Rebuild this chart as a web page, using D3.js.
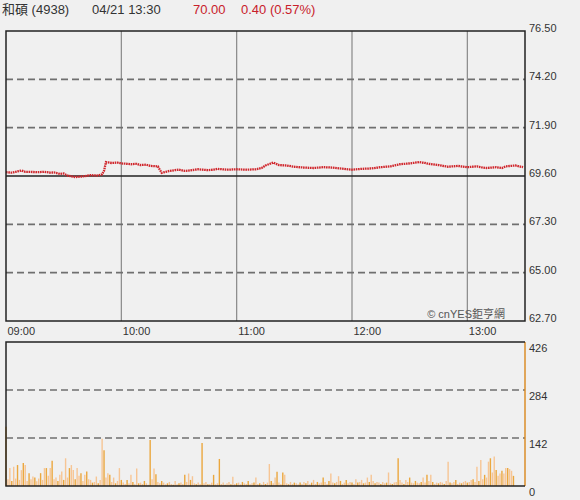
<!DOCTYPE html>
<html lang="zh-Hant">
<head>
<meta charset="utf-8">
<script src="https://cdn.jsdelivr.net/npm/d3@7"></script>
<style type="text/css">
body {
	margin: 0;
	background-color: #f0f0f0;
	font-family: "Liberation Sans", Arial, "Noto Sans CJK TC", sans-serif;
}
.axis text {
	font-size: 11px;
	fill: #333;
}
.axis path, .axis line {
	display: none;
}
</style>
</head>
<body>
<script type="text/javascript">

// header
var stockName = "和碩 (4938)";
var stamp = "04/21 13:30";
var lastPrice = "70.00";
var change = "0.40 (0.57%)";

// price scale (previous close 69.60)
var prevClose = 69.60;
var priceTicks = [62.70, 65.00, 67.30, 69.60, 71.90, 74.20, 76.50];
var hourTicks = ["09:00", "10:00", "11:00", "12:00", "13:00"];

// price line
var priceTimes = ["09:00","09:03","09:05","09:08","09:10","09:12","09:16","09:20","09:23","09:25",
	"09:28","09:30","09:32","09:36","09:40","09:44","09:48","09:50","09:51","09:52",
	"09:55","09:58","10:00","10:03","10:05","10:08","10:10","10:13","10:15","10:19",
	"10:20","10:21","10:25","10:28","10:30","10:33","10:35","10:40","10:45","10:48",
	"10:50","10:55","11:00","11:05","11:10","11:13","11:15","11:19","11:22","11:26",
	"11:30","11:35","11:40","11:45","11:50","11:55","12:00","12:05","12:10","12:15",
	"12:20","12:25","12:30","12:35","12:38","12:40","12:45","12:50","12:55","13:00",
	"13:05","13:08","13:10","13:15","13:18","13:20","13:25","13:29"];
var priceValues = [69.78,69.76,69.80,69.86,69.80,69.80,69.78,69.80,69.76,69.77,
	69.70,69.72,69.62,69.55,69.58,69.64,69.62,69.68,69.85,70.26,
	70.22,70.24,70.20,70.18,70.16,70.18,70.12,70.14,70.08,70.06,
	69.90,69.75,69.84,69.88,69.90,69.84,69.86,69.92,69.88,69.90,
	69.94,69.90,69.92,69.90,69.92,69.98,70.10,70.24,70.12,70.10,
	70.04,70.00,69.98,70.02,70.00,69.95,69.90,69.94,69.96,70.02,
	70.06,70.16,70.20,70.26,70.22,70.18,70.12,70.04,70.08,70.02,
	70.06,70.00,69.98,70.02,69.98,70.06,70.10,70.02];

// volume per minute, 09:00 .. 13:30
var volTicks = [0, 142, 284, 426];
var volumes = [175,
	20,53,15,57,22,62,18,47,68,62,
	15,38,20,28,25,14,22,38,18,53,
	53,30,53,75,20,25,15,33,43,18,
	82,25,53,62,47,20,53,30,38,15,
	33,43,20,18,10,12,28,8,18,140,
	106,25,38,33,12,25,8,15,53,18,
	10,6,18,8,33,12,5,52,8,10,
	6,15,8,4,136,20,52,35,12,8,
	15,10,5,8,12,6,4,15,5,8,
	10,6,33,12,37,18,29,8,5,10,
	6,127,8,12,5,6,10,33,5,8,
	80,6,10,4,8,12,5,27,6,8,
	10,5,12,8,6,15,5,8,10,25,
	6,8,5,12,6,10,65,15,8,25,
	42,10,6,40,33,8,5,12,6,10,
	8,5,10,6,12,8,15,5,10,18,
	6,12,8,10,25,12,6,15,37,10,
	8,12,29,15,6,10,18,8,12,10,
	6,20,10,12,18,8,10,25,12,33,
	15,8,12,10,6,12,8,10,40,8,
	6,10,12,82,18,10,6,18,12,25,
	10,8,15,10,8,12,25,10,33,15,
	33,12,6,10,8,12,10,6,15,72,
	10,8,12,18,6,10,8,12,15,10,
	12,18,20,12,57,15,77,20,33,25,
	72,82,40,87,47,30,37,45,37,53,
	53,50,45,30,0,0,0,0,0,426];

var width = 580, height = 500;
var left = 6, right = 525;
var pTop = 31, pBottom = 321;
var vTop = 342, vBottom = 486;

var parseTime = d3.timeParse("%H:%M");

var svg = d3.select("body").append("svg")
	.attr("width", width)
	.attr("height", height);

var x = d3.scaleTime()
	.domain([parseTime("09:00"), parseTime("13:30")])
	.range([left, right]);

var y = d3.scaleLinear()
	.domain([priceTicks[0], priceTicks[priceTicks.length - 1]])
	.range([pBottom, pTop]);

var yv = d3.scaleLinear()
	.domain([0, d3.max(volTicks)])
	.range([vBottom, vTop]);

// header line
var header = svg.append("g").style("font-size", "13px");
header.append("text").attr("x", 2).attr("y", 14).style("fill", "#333").text(stockName);
header.append("text").attr("x", 92).attr("y", 14).style("fill", "#333").text(stamp);
header.append("text").attr("x", 193).attr("y", 14).style("fill", "#c8202a").text(lastPrice);
header.append("text").attr("x", 241).attr("y", 14).style("fill", "#c8202a").text(change);

// hour lines
svg.selectAll(".vline")
	.data(hourTicks.slice(1))
	.enter().append("line")
	.attr("x1", function(d) { return x(parseTime(d)); })
	.attr("x2", function(d) { return x(parseTime(d)); })
	.attr("y1", pTop).attr("y2", pBottom)
	.style("stroke", "#888").style("stroke-width", 1.2);

// dashed price grid
svg.selectAll(".pgrid")
	.data(priceTicks.filter(function(d) { return d != prevClose && d != priceTicks[0] && d != priceTicks[priceTicks.length - 1]; }))
	.enter().append("line")
	.attr("x1", left).attr("x2", right)
	.attr("y1", function(d) { return y(d); })
	.attr("y2", function(d) { return y(d); })
	.style("stroke", "#6f6f6f").style("stroke-width", 1.6)
	.style("stroke-dasharray", "7,4");

// previous close
svg.append("line")
	.attr("x1", left).attr("x2", right)
	.attr("y1", y(prevClose)).attr("y2", y(prevClose))
	.style("stroke", "#222").style("stroke-width", 1.5);

// price line
var pricePts = priceTimes.map(function(t, i) { return [parseTime(t), priceValues[i]]; });
var line = d3.line()
	.x(function(d) { return x(d[0]); })
	.y(function(d) { return y(d[1]); });

svg.append("path")
	.datum(pricePts)
	.attr("d", line)
	.style("fill", "none")
	.style("stroke", "#d0262c")
	.style("stroke-width", 2.3)
	.style("stroke-dasharray", "1.6,0.7");

// price frame
svg.append("rect")
	.attr("x", left).attr("y", pTop)
	.attr("width", right - left).attr("height", pBottom - pTop)
	.style("fill", "none").style("stroke", "#222").style("stroke-width", 1.5);

// right price axis
var yAxis = d3.axisRight(y).tickValues(priceTicks).tickFormat(d3.format(".2f")).tickSize(0);
svg.append("g")
	.attr("class", "axis")
	.attr("transform", "translate(" + (right + 1) + ",0)")
	.call(yAxis)
	.selectAll("text").attr("dy", "0.05em");

// time axis
var xAxis = d3.axisBottom(x)
	.tickValues(hourTicks.map(parseTime))
	.tickFormat(d3.timeFormat("%H:%M"))
	.tickSize(0);
svg.append("g")
	.attr("class", "axis")
	.attr("transform", "translate(0," + (pBottom + 3) + ")")
	.call(xAxis)
	.selectAll("text").style("text-anchor", "start").attr("dx", 1);

// watermark
svg.append("text")
	.attr("x", 505).attr("y", 318)
	.attr("text-anchor", "end")
	.style("font-size", "11px").style("fill", "#555")
	.text("© cnYES鉅亨網");

// volume grid
svg.selectAll(".vgrid")
	.data(volTicks.slice(1, -1))
	.enter().append("line")
	.attr("x1", left).attr("x2", right)
	.attr("y1", function(d) { return yv(d); })
	.attr("y2", function(d) { return yv(d); })
	.style("stroke", "#6f6f6f").style("stroke-width", 1.6)
	.style("stroke-dasharray", "7,4");

// volume bars
var t0 = parseTime("09:00");
svg.selectAll(".vbar")
	.data(volumes)
	.enter().append("line")
	.attr("x1", function(d, i) { return x(d3.timeMinute.offset(t0, i)); })
	.attr("x2", function(d, i) { return x(d3.timeMinute.offset(t0, i)); })
	.attr("y1", vBottom)
	.attr("y2", function(d) { return yv(d); })
	.style("stroke", function(d, i) { return i == volumes.length - 1 ? "#d9861a" : (i % 3 == 0 ? "#eba73e" : "#f7c594"); })
	.style("stroke-width", 1.4);

// volume frame (top, left, bottom)
svg.append("path")
	.attr("d", "M" + right + "," + vTop + "H" + left + "V" + vBottom + "H" + right)
	.style("fill", "none").style("stroke", "#222").style("stroke-width", 1.5);

// right volume axis
var yvAxis = d3.axisRight(yv).tickValues(volTicks).tickFormat(d3.format("d")).tickSize(0);
svg.append("g")
	.attr("class", "axis")
	.attr("transform", "translate(" + (right + 1) + ",0)")
	.call(yvAxis)
	.selectAll("text").attr("dy", "0.85em");

</script>
</body>
</html>
